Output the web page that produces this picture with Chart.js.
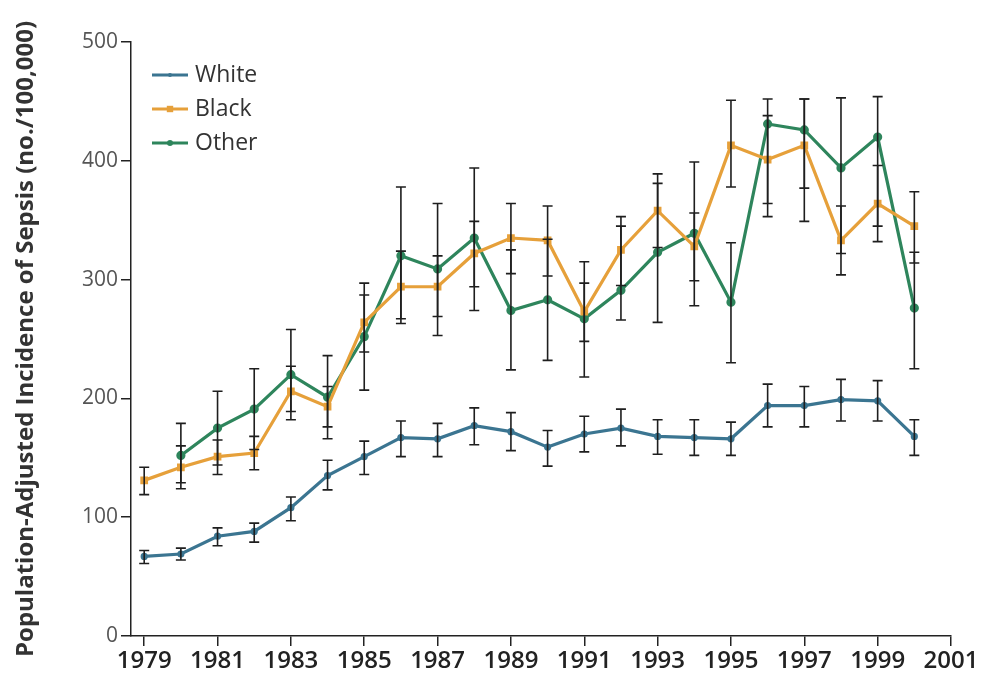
<!DOCTYPE html>
<html>
<head>
<meta charset="utf-8">
<title>Population-Adjusted Incidence of Sepsis</title>
<script src="https://cdn.jsdelivr.net/npm/chart.js@4.4.1/dist/chart.umd.min.js"></script>
<style>
  html, body { margin: 0; padding: 0; background: #fff; }
  #wrap { width: 981px; height: 680px; position: relative; }
</style>
</head>
<body>
<div id="wrap"><canvas id="sepsisChart"></canvas></div>
<script>
// years on the x axis and the labelled ticks
const years = [1979, 1980, 1981, 1982, 1983, 1984, 1985, 1986, 1987, 1988, 1989,
               1990, 1991, 1992, 1993, 1994, 1995, 1996, 1997, 1998, 1999, 2000];
const xTickYears = [1979, 1981, 1983, 1985, 1987, 1989, 1991, 1993, 1995, 1997, 1999, 2001];
const yTickValues = [0, 100, 200, 300, 400, 500];

// White
const whiteRate = [67, 69, 84, 88, 108, 135, 151, 167, 166, 177, 172, 159, 170, 175, 168, 167, 166, 194, 194, 199, 198, 168];
const whiteLow  = [61, 64, 76, 79, 97, 123, 136, 151, 151, 161, 156, 143, 155, 160, 153, 152, 152, 176, 176, 181, 181, 152];
const whiteHigh = [72, 74, 91, 95, 117, 148, 164, 181, 179, 192, 188, 173, 185, 191, 182, 182, 180, 212, 210, 216, 215, 182];

// Black
const blackRate = [131, 142, 151, 154, 206, 193, 264, 294, 294, 322, 335, 333, 273, 325, 358, 328, 413, 401, 413, 333, 364, 345];
const blackLow  = [119, 124, 136, 140, 189, 176, 239, 267, 269, 294, 305, 303, 248, 295, 327, 299, 378, 364, 349, 304, 332, 314];
const blackHigh = [142, 160, 165, 168, 227, 210, 287, 324, 320, 349, 364, 362, 297, 353, 389, 356, 451, 438, 452, 362, 396, 374];

// Other
const otherRate = [null, 152, 175, 191, 220, 201, 252, 320, 309, 335, 274, 283, 267, 291, 323, 339, 281, 431, 426, 394, 420, 276];
const otherLow  = [null, 129, 144, 157, 182, 166, 207, 263, 253, 274, 224, 232, 218, 266, 264, 278, 230, 353, 377, 322, 345, 225];
const otherHigh = [null, 179, 206, 225, 258, 236, 297, 378, 364, 394, 325, 334, 315, 345, 381, 399, 331, 452, 452, 453, 454, 323];

const toPoints = (vals) => years.map((y, i) => ({ x: y, y: vals[i] }));

// error bars, drawn through the chart's own scales
const errorBars = {
    id: 'errorBars',
    afterDatasetsDraw(chart) {
        const ctx = chart.ctx;
        const xs = chart.scales.x, ys = chart.scales.y;
        ctx.save();
        ctx.strokeStyle = '#1e1e1e';
        ctx.lineWidth = 1.6;
        chart.data.datasets.forEach((ds) => {
            ds.errLow.forEach((lo, i) => {
                const hi = ds.errHigh[i];
                if (lo == null || hi == null) return;
                const px = xs.getPixelForValue(years[i]);
                const pLo = ys.getPixelForValue(lo);
                const pHi = ys.getPixelForValue(hi);
                ctx.beginPath();
                ctx.moveTo(px, pLo); ctx.lineTo(px, pHi);
                ctx.moveTo(px - 5, pLo); ctx.lineTo(px + 5, pLo);
                ctx.moveTo(px - 5, pHi); ctx.lineTo(px + 5, pHi);
                ctx.stroke();
            });
        });
        ctx.restore();
    }
};

// legend in the upper left corner of the plot
const cornerLegend = {
    id: 'cornerLegend',
    afterDraw(chart) {
        const ctx = chart.ctx;
        const left = chart.chartArea.left + 21;
        let y = chart.chartArea.top + 33;
        ctx.save();
        chart.data.datasets.forEach((ds) => {
            ctx.strokeStyle = ds.borderColor;
            ctx.lineWidth = 3;
            ctx.beginPath();
            ctx.moveTo(left, y); ctx.lineTo(left + 36, y);
            ctx.stroke();
            ctx.fillStyle = ds.borderColor;
            const r = ds.pointRadius;
            if (ds.pointStyle === 'rect') {
                ctx.fillRect(left + 18 - r, y - r, r * 2, r * 2);
            } else {
                ctx.beginPath();
                ctx.arc(left + 18, y, r, 0, Math.PI * 2);
                ctx.fill();
            }
            ctx.fillStyle = '#333';
            ctx.font = '23px "Open Sans"';
            ctx.textBaseline = 'middle';
            ctx.fillText(ds.label, left + 43, y);
            y += 34;
        });
        ctx.restore();
    }
};

const ctx = document.getElementById('sepsisChart').getContext('2d');
const sepsisChart = new Chart(ctx, {
    type: 'line',
    data: {
        datasets: [{
            label: 'White',
            data: toPoints(whiteRate),
            errLow: whiteLow,
            errHigh: whiteHigh,
            borderColor: '#3b7591',
            backgroundColor: '#3b7591',
            borderWidth: 3.2,
            pointStyle: 'circle',
            pointRadius: 2,
            fill: false
        }, {
            label: 'Black',
            data: toPoints(blackRate),
            errLow: blackLow,
            errHigh: blackHigh,
            borderColor: '#e6a03a',
            backgroundColor: '#e6a03a',
            borderWidth: 3.2,
            pointStyle: 'rect',
            pointRadius: 3.2,
            fill: false
        }, {
            label: 'Other',
            data: toPoints(otherRate),
            errLow: otherLow,
            errHigh: otherHigh,
            borderColor: '#2e855c',
            backgroundColor: '#2e855c',
            borderWidth: 3.2,
            pointStyle: 'circle',
            pointRadius: 3,
            fill: false
        }]
    },
    options: {
        responsive: true,
        maintainAspectRatio: false,
        animation: false,
        spanGaps: false,
        layout: { padding: { top: 42, right: 30, left: 0, bottom: 0 } },
        plugins: {
            legend: { display: false },
            tooltip: { enabled: false }
        },
        scales: {
            x: {
                type: 'linear',
                min: 1978.64,
                max: 2001,
                afterBuildTicks: (scale) => { scale.ticks = xTickYears.map(v => ({ value: v })); },
                afterFit: (scale) => { scale.height = 44; },
                grid: { drawOnChartArea: false, drawTicks: true, tickLength: 10, color: '#222', lineWidth: 1.5 },
                border: { display: true, color: '#222', width: 1.5 },
                ticks: {
                    autoSkip: false,
                    maxRotation: 0,
                    padding: 1,
                    color: '#222',
                    font: { family: 'Open Sans', size: 24, weight: '600' },
                    callback: (v) => String(v)
                }
            },
            y: {
                min: 0,
                max: 500,
                afterBuildTicks: (scale) => { scale.ticks = yTickValues.map(v => ({ value: v })); },
                afterFit: (scale) => { scale.width = 131; },
                grid: { drawOnChartArea: false, drawTicks: true, tickLength: 10, color: '#222', lineWidth: 1.5 },
                border: { display: true, color: '#222', width: 1.5 },
                ticks: {
                    padding: 3,
                    color: '#555',
                    font: { family: 'Open Sans', size: 21 }
                },
                title: {
                    display: true,
                    text: 'Population-Adjusted Incidence of Sepsis (no./100,000)',
                    color: '#333',
                    font: { family: 'Open Sans', size: 24, weight: 'bold' },
                    padding: { top: 12, bottom: 0 }
                }
            }
        }
    },
    plugins: [errorBars, cornerLegend]
});
</script>
</body>
</html>
